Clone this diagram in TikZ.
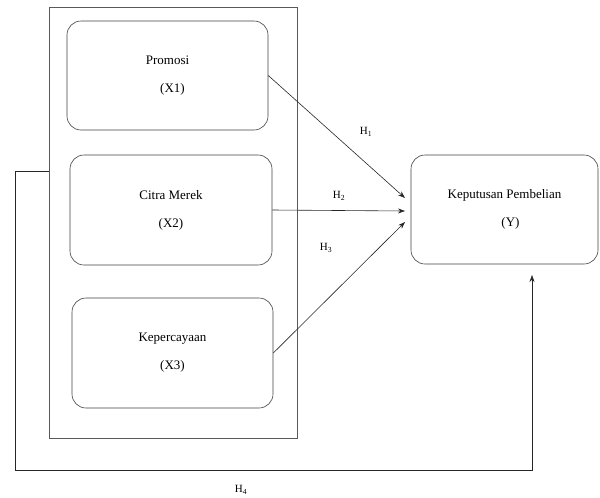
\documentclass[tikz,border=0pt]{standalone}
\usepackage{fontspec}
\setmainfont{Liberation Serif}
\usepackage{tikz}
\usetikzlibrary{arrows.meta,positioning,calc}

\tikzset{
  varbox/.style={draw=black!75, rounded corners=14pt, line width=0.6pt, align=center,
    minimum width=201pt, minimum height=109pt, font=\fontsize{13}{28}\selectfont},
  hlabel/.style={font=\fontsize{11}{13}\selectfont},
}

\begin{document}
\begin{tikzpicture}[x=1pt, y=-1pt, >={Stealth[length=7pt,width=5pt]}, line width=0.6pt]
  \useasboundingbox (0,0) rectangle (600,498);

  % Define coordinates for nodes
  \node[draw=black!65, minimum width=248pt, minimum height=431pt] (group) at (173,222.5) {};
  \node[varbox] (X1) at (167.5,75.5) {Promosi\\ \hspace{10pt}(X1)};
  \node[varbox, minimum width=202pt, minimum height=110pt] (X2) at (171,210) {Citra Merek\\(X2)};
  \node[varbox, minimum height=110pt] (X3) at (172.5,353) {Kepercayaan\\(X3)};
  \node[varbox, minimum width=187pt] (Y) at (504.5,209.5) {Keputusan Pembelian\\ \hspace{12pt}(Y)};

  \coordinate (e1) at (405,198);
  \coordinate (e2) at (405,211);
  \coordinate (e3) at (405,222);
  \coordinate (fb) at (49,171);
  \coordinate (tip) at (532,275);

  % Draw arrows between nodes
  \draw[->, black!85] (X1.east) to (e1);
  \draw[->, black!85] (X2.east) to (e2);
  \draw[->, black!85] (X3.east) to (e3);
  \draw[->, black!85] (fb) -- (15,171) -- (15,470) -- (532,470) -- (tip);

  \node[hlabel] (h1) at (366,132) {H\textsubscript{1}};
  \node[hlabel] (h2) at (339,196) {H\textsubscript{2}};
  \node[hlabel] (h3) at (326,248) {H\textsubscript{3}};
  \node[hlabel] (h4) at (241,490) {H\textsubscript{4}};
\end{tikzpicture}
\end{document}
